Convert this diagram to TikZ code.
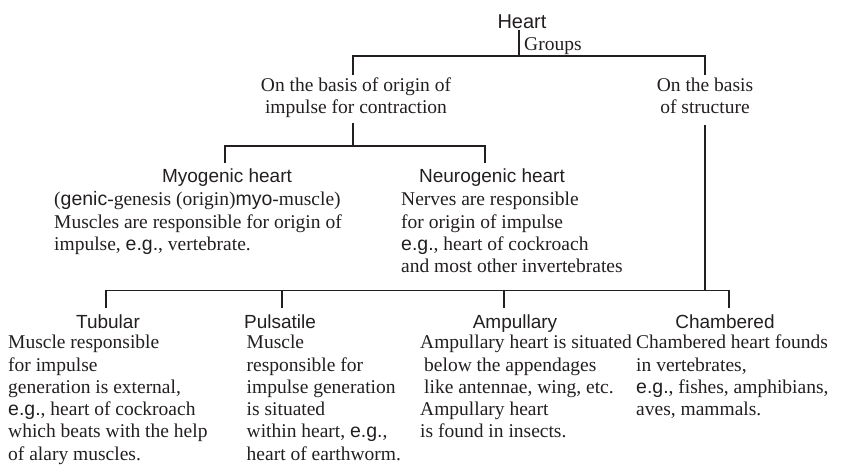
\documentclass[tikz,border=0pt]{standalone}
\usepackage{fontspec}
\setmainfont{Liberation Serif}
\newfontfamily\headsf{Liberation Sans}
\definecolor{ink}{HTML}{231F20}
\newcommand{\sfw}[1]{{\headsf #1}}
\newcommand{\eg}{\sfw{e.g.}}
\begin{document}
\begin{tikzpicture}[x=1pt,y=-1pt,
  every node/.style={text=ink},
  link/.style={draw=ink,line width=1.1pt},
  heading/.style={font=\headsf\fontsize{19}{22}\selectfont, anchor=base, inner xsep=0pt, inner ysep=6pt},
  bodytext/.style={font=\fontsize{19.5}{22.3}\selectfont, align=left, anchor=north west, inner sep=0pt},
  basis/.style={font=\fontsize{19.5}{22.3}\selectfont, align=center, anchor=north, inner sep=0pt}]

\useasboundingbox (0,0) rectangle (841,464);

% top level
\node[heading, font=\headsf\fontsize{20}{24}\selectfont, inner ysep=2pt] (heart) at (522,28) {Heart};
\node[anchor=base west, inner sep=0pt, font=\fontsize{19.5}{22.3}\selectfont] (groups) at (524,50) {Groups};

\node[basis] (origin) at (356,75.4) {\strut On the basis of origin of\\impulse for contraction\strut};
\node[basis] (structure) at (705,75.4) {\strut On the basis\\of structure\strut};

% junction points and drop positions
\coordinate (top) at (519,56);
\coordinate (xo) at (353,0);
\coordinate (mid) at (353,146);
\coordinate (xm) at (225,0);
\coordinate (xn) at (485,0);
\coordinate (low) at (705,290.5);
\coordinate (xt) at (106,0);
\coordinate (xp) at (282,0);
\coordinate (xa) at (504,0);
\coordinate (xc) at (729,0);

% second level
\node[heading] (myo) at (227,182.5) {Myogenic heart};
\node[heading] (neuro) at (492,182.5) {Neurogenic heart};

\node[bodytext] (myobody) at (54,189.9) {\strut(\sfw{genic}-genesis (origin)\sfw{myo}-muscle)\\
Muscles are responsible for origin of\\
impulse, \eg, vertebrate.};
\node[bodytext] (neurobody) at (401,189.9) {\strut Nerves are responsible\\
for origin of impulse\\
\eg, heart of cockroach\\
and most other invertebrates};

% third level
\node[heading] (tub) at (108,328) {Tubular};
\node[heading] (puls) at (280,328) {Pulsatile};
\node[heading] (amp) at (515,328) {Ampullary};
\node[heading] (cham) at (725,328) {Chambered};

\node[bodytext] (tubbody) at (8,332.9) {\strut Muscle responsible\\
for impulse\\
generation is external,\\
\eg, heart of cockroach\\
which beats with the help\\
of alary muscles.};
\node[bodytext] (pulsbody) at (246.5,332.9) {\strut Muscle\\
responsible for\\
impulse generation\\
is situated\\
within heart, \eg,\\
heart of earthworm.};
\node[bodytext] (ampbody) at (420,332.9) {\strut Ampullary heart is situated\\
\hspace*{4pt}below the appendages\\
\hspace*{4pt}like antennae, wing, etc.\\
Ampullary heart\\
is found in insects.};
\node[bodytext] (chambody) at (636,332.9) {\strut Chambered heart founds\\
in vertebrates,\\
\eg, fishes, amphibians,\\
aves, mammals.};

% connectors
\draw[link] (heart.south -| top) -- (top);
\draw[link] (origin.north -| xo) |- (top) -| (structure.north);
\draw[link, shorten <=3pt] (origin.south -| mid) -- (mid);
\draw[link] (myo.north -| xm) |- (mid) -| (neuro.north -| xn);
\draw[link, shorten <=4.5pt] (structure.south) -- (low);
\draw[link] (tub.north -| xt) |- (low) -| (cham.north -| xc);
\draw[link] (puls.north -| xp) -- (xp |- low);
\draw[link] (amp.north -| xa) -- (xa |- low);
\end{tikzpicture}
\end{document}
